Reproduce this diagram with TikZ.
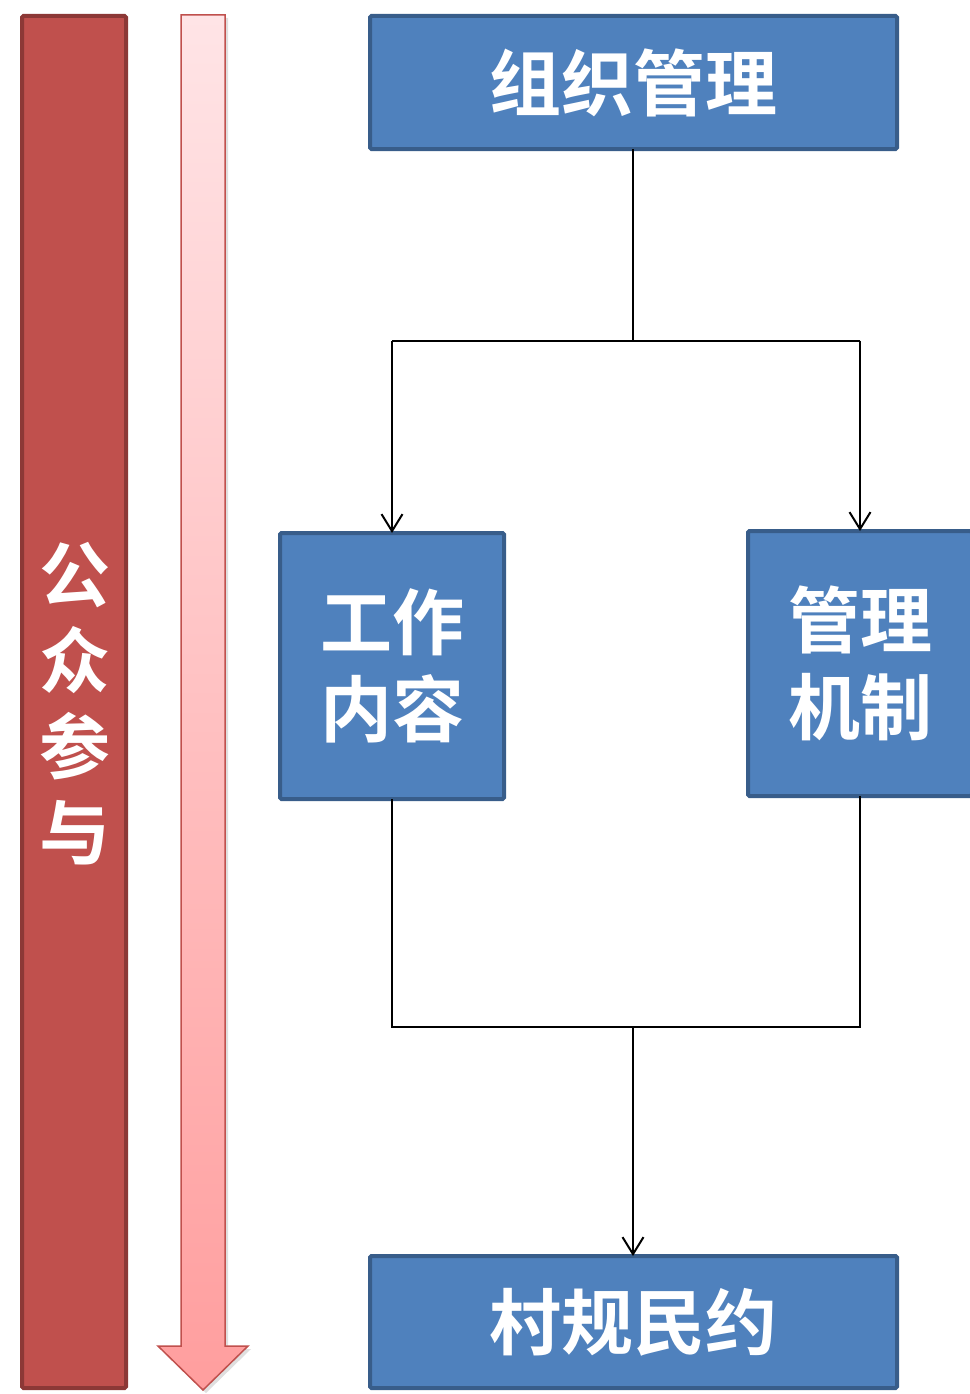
\documentclass[tikz,border=0pt]{standalone}
\usepackage{fontspec}
\newfontfamily\cjk{Noto Sans CJK SC}[BoldFont={Noto Sans CJK SC Bold}]
\usetikzlibrary{arrows.meta,shadows}
\definecolor{boxblue}{HTML}{4F81BD}
\definecolor{boxedge}{HTML}{385D8A}
\definecolor{barred}{HTML}{C0504D}
\definecolor{baredge}{HTML}{8C3836}
\definecolor{pinktop}{HTML}{FFE4E6}
\definecolor{pinkbot}{HTML}{FF9E9E}
\tikzset{
  bluebox/.style={draw=boxedge, fill=boxblue, line width=4pt, rounded corners=1.5pt,
    inner sep=0pt, outer sep=0pt, text=white, align=center,
    font=\cjk\bfseries\fontsize{72}{87}\selectfont},
  link/.style={draw=black, line width=2pt},
  linkarrow/.style={link, -{Straight Barb[length=17pt,width=21pt,line width=2pt]}},
}
\begin{document}
\begin{tikzpicture}[x=1pt,y=-1pt]
\useasboundingbox (0,0) rectangle (969,1394);
% red bar
\draw[draw=baredge, fill=barred, line width=4pt, rounded corners=1.5pt] (22,16) rectangle (126,1388);
\node[text=white, align=center, inner sep=0pt, font=\cjk\bfseries\fontsize{71}{86}\selectfont] (side) at (75,704) {公\\众\\参\\与};
% pink arrow
\path[draw=barred, line width=1.5pt, top color=pinktop, bottom color=pinkbot,
  drop shadow={opacity=0.25, shadow xshift=3pt, shadow yshift=-3pt}]
  (181,15) -- (225,15) -- (225,1346) -- (248,1346) -- (203,1390) -- (158,1346) -- (181,1346) -- cycle;
% boxes
\node[bluebox, minimum width=527pt, minimum height=133pt] (org) at (633.5,82.5) {组织管理};
\node[bluebox, minimum width=224pt, minimum height=266pt] (work) at (392,666) {工作\\内容};
\node[bluebox, minimum width=224pt, minimum height=265pt] (mech) at (860,663.5) {管理\\机制};
\node[bluebox, minimum width=527pt, minimum height=132pt] (rule) at (633.5,1322) {村规民约};
% connectors
\coordinate (split) at (633,340.5);
\coordinate (splitL) at (392,340.5);
\coordinate (splitR) at (860,340.5);
\coordinate (join) at (633,1026.5);
\coordinate (joinL) at (392,1026.5);
\coordinate (joinR) at (860,1026.5);
\draw[link] (org.south -| split) -- (split);
\draw[link] (splitL) -- (splitR);
\draw[linkarrow] (splitL) -- (work.north);
\draw[linkarrow] (splitR) -- (mech.north);
\draw[link] (work.south) -- (joinL) -- (joinR) -- (mech.south);
\draw[linkarrow] (join) -- (rule.north -| join);
\end{tikzpicture}
\end{document}
